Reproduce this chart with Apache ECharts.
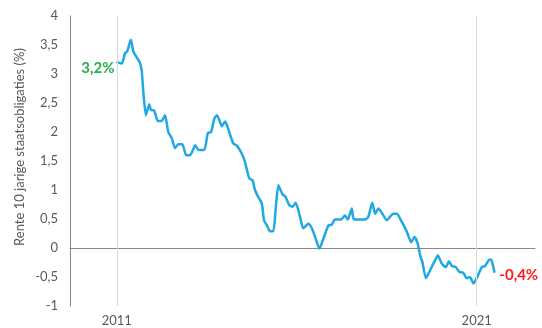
<!DOCTYPE html>
<html>
<head>
<meta charset="utf-8">
<script src="https://cdn.jsdelivr.net/npm/echarts@6/dist/echarts.min.js"></script>
<style>html,body{margin:0;padding:0;background:#fff;}#c{width:542px;height:328px;}</style>
</head>
<body>
<div id="c"></div>
<script>
const years = [2011.02,2011.14,2011.23,2011.29,2011.39,2011.46,2011.54,2011.63,2011.69,2011.74,2011.81,2011.90,2011.95,2012.04,2012.14,2012.25,2012.34,2012.43,2012.53,2012.62,2012.71,2012.82,2012.93,2013.04,2013.18,2013.27,2013.43,2013.53,2013.62,2013.71,2013.78,2013.84,2013.92,2014.01,2014.07,2014.15,2014.24,2014.33,2014.47,2014.56,2014.68,2014.77,2014.84,2014.93,2015.03,2015.09,2015.17,2015.26,2015.35,2015.42,2015.49,2015.60,2015.69,2015.79,2015.88,2015.97,2016.09,2016.18,2016.32,2016.42,2016.51,2016.63,2016.74,2016.88,2016.97,2017.06,2017.23,2017.34,2017.42,2017.53,2017.59,2017.90,2017.99,2018.10,2018.18,2018.27,2018.38,2018.50,2018.68,2018.78,2018.92,2019.06,2019.18,2019.27,2019.36,2019.43,2019.49,2019.59,2019.70,2019.82,2019.92,2020.03,2020.14,2020.23,2020.31,2020.42,2020.51,2020.63,2020.72,2020.81,2020.91,2021.03,2021.14,2021.23,2021.34,2021.40,2021.49];
const values = [3.20,3.18,3.36,3.39,3.59,3.39,3.30,3.21,3.07,2.67,2.29,2.48,2.38,2.37,2.19,2.19,2.29,2.00,1.89,1.72,1.79,1.79,1.60,1.60,1.77,1.69,1.69,1.98,2.00,2.23,2.29,2.22,2.10,2.18,2.10,1.95,1.80,1.77,1.63,1.49,1.20,1.17,1.00,0.88,0.77,0.48,0.39,0.29,0.29,0.71,1.08,0.93,0.88,0.74,0.71,0.78,0.54,0.34,0.42,0.34,0.19,-0.01,0.16,0.39,0.40,0.49,0.49,0.56,0.49,0.68,0.49,0.49,0.54,0.78,0.59,0.68,0.59,0.48,0.59,0.59,0.45,0.28,0.10,0.19,0.08,-0.13,-0.24,-0.52,-0.39,-0.24,-0.13,-0.27,-0.33,-0.23,-0.31,-0.33,-0.41,-0.43,-0.52,-0.50,-0.61,-0.48,-0.33,-0.31,-0.21,-0.20,-0.41];
const xLabelYears = [2011, 2021];
const startLabel = '3,2%';
const endLabel = '-0,4%';
const yAxisTitle = 'Rente 10 jarige staatsobligaties (%)';

const FONT = 'Lato, "Open Sans", sans-serif';
const data = years.map((y, i) => {
  const item = { value: [y, values[i]] };
  if (i === 0) {
    item.label = { show: true, position: 'left', distance: 3, offset: [0, 6], formatter: startLabel,
      color: '#27AE4F', fontSize: 15, fontWeight: 'bold', fontFamily: FONT };
  } else if (i === years.length - 1) {
    item.label = { show: true, position: 'right', distance: 5, offset: [0, 3], formatter: endLabel,
      color: '#FF1A1A', fontSize: 15, fontWeight: 'bold', fontFamily: FONT };
  }
  return item;
});

const chart = echarts.init(document.getElementById('c'), null, { renderer: 'canvas' });
chart.setOption({
  animation: false,
  backgroundColor: '#ffffff',
  grid: { left: 70, right: 7, top: 16, bottom: 22, containLabel: false },
  xAxis: {
    type: 'value', min: 2009.7, max: 2022.62,
    axisLine: { onZero: true, lineStyle: { color: '#868686', width: 1 } },
    axisTick: { show: false },
    splitLine: { show: false },
    axisLabel: {
      customValues: xLabelYears,
      formatter: v => String(Math.round(v)),
      color: '#595959', fontSize: 13, fontFamily: FONT, margin: 8,
    },
  },
  yAxis: {
    type: 'value', min: -1, max: 4, interval: 0.5,
    axisLine: { show: true, lineStyle: { color: '#868686', width: 1 } },
    axisTick: { show: false },
    splitLine: { show: false },
    axisLabel: {
      formatter: v => String(v).replace('.', ','),
      color: '#595959', fontSize: 13, fontFamily: FONT, margin: 12,
    },
  },
  graphic: [{
    type: 'text', x: 20, y: 147, rotation: Math.PI / 2,
    style: { text: yAxisTitle, fill: '#595959', font: '13px ' + FONT, align: 'center', verticalAlign: 'middle' },
  }],
  series: [
    {
      type: 'line', data: [], z: 1, silent: true,
      markLine: {
        silent: true, symbol: 'none', label: { show: false },
        lineStyle: { color: '#D9D9D9', width: 1, type: 'solid' },
        data: xLabelYears.map(y => ({ xAxis: y })),
      },
    },
    {
      type: 'line', data: data, z: 3,
      showSymbol: true, symbol: 'circle', symbolSize: 0, smooth: 0.2,
      lineStyle: { color: '#1FA8E4', width: 2.5, join: 'round', cap: 'round' },
      itemStyle: { color: '#1FA8E4' },
    },
  ],
});
</script>
</body>
</html>
